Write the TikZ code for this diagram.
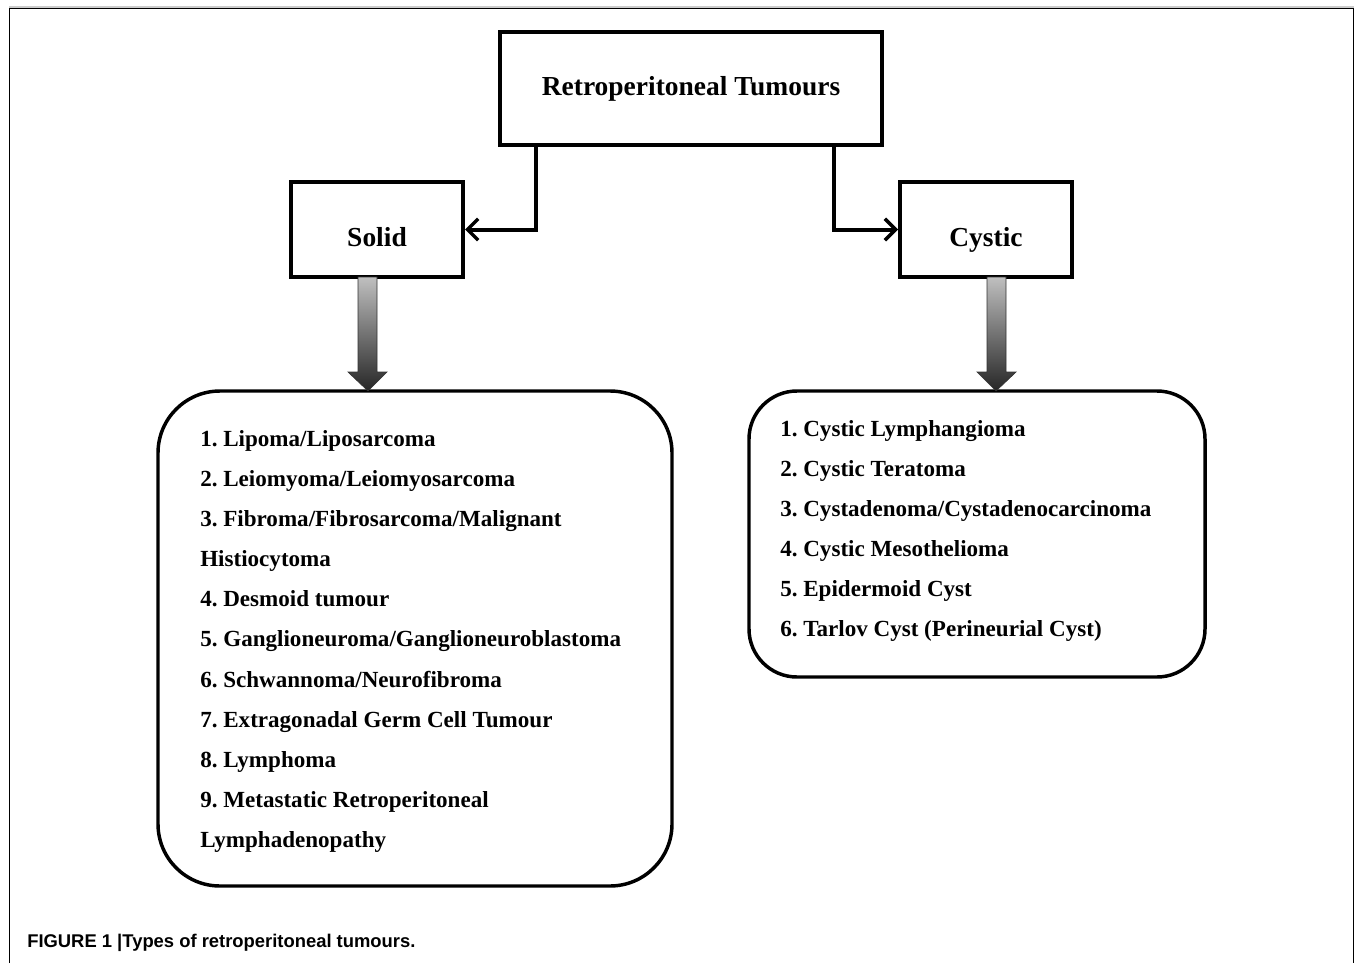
\documentclass[tikz,border=0pt]{standalone}
\usepackage{fontspec}
\setmainfont{Liberation Serif}
\setsansfont{Liberation Sans}
\usetikzlibrary{arrows.meta}
\frenchspacing
\tikzset{
  box/.style={draw, line width=3pt, inner sep=0pt},
  head/.style={anchor=base, inner sep=0pt, font=\fontsize{20.6}{21}\selectfont\bfseries},
  listbox/.style={draw, line width=2.6pt},
  item/.style={anchor=base west, inner sep=0pt, font=\fontsize{17.3}{18}\selectfont\bfseries},
  conn/.style={line width=3pt, -{Straight Barb[length=8pt,width=16pt,line width=2.6pt]}},
  bigarrow/.style={draw=black!80, line width=0.5pt, top color=black!25, bottom color=black!85}
}
\begin{document}
\begin{tikzpicture}[x=0.75pt,y=-0.75pt]
\useasboundingbox (0,0) rectangle (1355,963);
% frame
\draw[black!20, line width=1pt] (9,7) -- (1354,7);
\draw[line width=1pt] (9.5,963) -- (9.5,8.5) -- (1353.5,8.5) -- (1353.5,963);
% boxes
\node[box, minimum width=382*0.75pt, minimum height=113*0.75pt] (top) at (691,88.5) {};
\node[box, minimum width=172*0.75pt, minimum height=95*0.75pt] (solid) at (377,229.5) {};
\node[box, minimum width=172*0.75pt, minimum height=95*0.75pt] (cystic) at (986,229.5) {};
\node[head] (toptxt) at (691,96) {Retroperitoneal Tumours};
\node[head] (solidtxt) at (377,246) {Solid};
\node[head] (cystictxt) at (986,246) {Cystic};
% connectors
\coordinate (tl) at (536,145);
\coordinate (tr) at (834,145);
\draw[conn] (tl) |- (solid.east);
\draw[conn] (tr) |- (cystic.west);
% rounded list boxes
\draw[listbox, rounded corners=62*0.75pt] (158,391) rectangle (672,886);
\coordinate (lb) at (368,391);
\draw[listbox, rounded corners=48*0.75pt] (749,391) rectangle (1205,677);
\coordinate (rb) at (996,391);
% gradient arrows
\path[bigarrow] (358,277) -- (377,277) -- (377,372) -- (387,372) -- (lb) -- (348,372) -- (358,372) -- cycle;
\path[bigarrow] (987,277) -- (1006,277) -- (1006,372) -- (1016,372) -- (rb) -- (977,372) -- (987,372) -- cycle;
% left items
\node[item] (l1) at (200,446) {1. Lipoma/Liposarcoma};
\node[item] (l2) at (200,486) {2. Leiomyoma/Leiomyosarcoma};
\node[item] (l3) at (200,526) {3. Fibroma/Fibrosarcoma/Malignant};
\node[item] (l3b) at (200,566) {Histiocytoma};
\node[item] (l4) at (200,606) {4. Desmoid tumour};
\node[item] (l5) at (200,646) {5. Ganglioneuroma/Ganglioneuroblastoma};
\node[item] (l6) at (200,687) {6. Schwannoma/Neurofibroma};
\node[item] (l7) at (200,727) {7. Extragonadal Germ Cell Tumour};
\node[item] (l8) at (200,767) {8. Lymphoma};
\node[item] (l9) at (200,807) {9. Metastatic Retroperitoneal};
\node[item] (l9b) at (200,847) {Lymphadenopathy};
% right items
\node[item] (r1) at (780,436) {1. Cystic Lymphangioma};
\node[item] (r2) at (780,476) {2. Cystic Teratoma};
\node[item] (r3) at (780,516) {3. Cystadenoma/Cystadenocarcinoma};
\node[item] (r4) at (780,556) {4. Cystic Mesothelioma};
\node[item] (r5) at (780,596) {5. Epidermoid Cyst};
\node[item] (r6) at (780,636) {6. Tarlov Cyst (Perineurial Cyst)};
% caption
\node[anchor=base west, inner sep=0pt, font=\sffamily\bfseries\fontsize{13.8}{14}\selectfont] (cap) at (27,947) {FIGURE 1 |Types of retroperitoneal tumours.};
\end{tikzpicture}
\end{document}
